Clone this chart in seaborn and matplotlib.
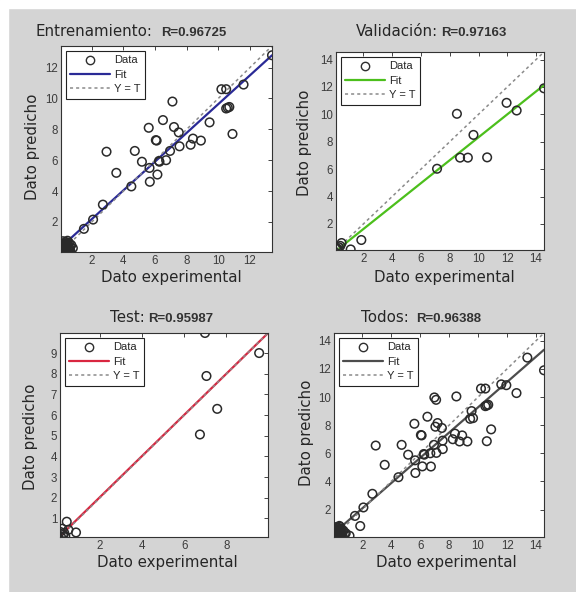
import numpy as np
import pandas as pd
import matplotlib
matplotlib.use("Agg")
import matplotlib.pyplot as plt
from matplotlib.lines import Line2D
from matplotlib.patches import Rectangle
import seaborn as sns

# datos (objetivo = experimental, salida = predicho)
train_exp = [13.4, 11.6, 10.2, 10.5, 10.5, 10.7, 10.6, 10.9, 9.45, 8.9, 8.4, 8.25,
             7.55, 7.5, 7.2, 7.1, 6.5, 5.6, 6.05, 6.1, 6.95, 6.7, 6.25, 6.28, 6.15,
             5.65, 5.67, 5.17, 4.72, 4.5, 3.55, 2.93, 2.7, 2.08, 1.5,
             0.1, 0.15, 0.2, 0.25, 0.3, 0.35, 0.4, 0.45, 0.5, 0.55, 0.6, 0.7, 0.8,
             0.12, 0.28, 0.38, 0.2, 0.65, 0.08, 0.18, 0.33, 0.42, 0.52, 0.62, 0.22,
             0.3, 0.46, 0.14]
train_pred = [12.8, 10.9, 10.6, 10.6, 9.35, 9.45, 9.4, 7.7, 8.45, 7.27, 7.4, 7.0,
              6.9, 7.8, 8.15, 9.8, 8.6, 8.1, 7.3, 7.27, 6.6, 6.0, 5.95, 5.9, 5.07,
              5.5, 4.6, 5.9, 6.6, 4.3, 5.18, 6.55, 3.12, 2.15, 1.55,
              0.1, 0.35, 0.6, 0.2, 0.45, 0.7, 0.15, 0.5, 0.3, 0.65, 0.25, 0.5, 0.3,
              0.55, 0.05, 0.32, 0.25, 0.1, 0.42, 0.75, 0.58, 0.62, 0.12, 0.4, 0.45,
              0.22, 0.78, 0.05]

val_exp = [14.55, 11.95, 12.65, 8.5, 9.65, 8.72, 9.26, 10.6, 7.12, 1.86, 1.12,
           0.49, 0.3, 0.2, 0.4, 0.1]
val_pred = [11.9, 10.84, 10.28, 10.04, 8.5, 6.84, 6.84, 6.86, 6.03, 0.83, 0.14,
            0.61, 0.3, 0.2, 0.4, 0.25]

test_exp = [6.98, 9.55, 7.05, 7.56, 6.74, 0.42, 0.86, 0.2, 0.3, 0.15, 0.35, 0.25, 0.5, 0.1]
test_pred = [9.97, 9.0, 7.89, 6.3, 5.06, 0.84, 0.32, 0.5, 0.3, 0.1, 0.15, 0.2, 0.45, 0.35]

titles = ["Entrenamiento:", "Validación:", "Test:", "Todos:"]
r_values = ["R=0.96725", "R=0.97163", "R=0.95987", "R=0.96388"]
fit_colors = ["#2a2a96", "#4cbf1c", "#d92640", "#4d4d4d"]

sets = [
    (train_exp, train_pred),
    (val_exp, val_pred),
    (test_exp, test_pred),
    (train_exp + val_exp + test_exp, train_pred + val_pred + test_pred),
]
x_ticks = [[2, 4, 6, 8, 10, 12], [2, 4, 6, 8, 10, 12, 14], [2, 4, 6, 8],
           [2, 4, 6, 8, 10, 12, 14]]
y_ticks = [[2, 4, 6, 8, 10, 12], [2, 4, 6, 8, 10, 12, 14], list(range(1, 10)),
           [2, 4, 6, 8, 10, 12, 14]]

sns.set_theme(style="white")
plt.rcParams["font.family"] = ["Liberation Sans", "DejaVu Sans"]

W, H = 576, 592
BG = "#d4d4d4"
fig = plt.figure(figsize=(W / 100, H / 100), dpi=100, facecolor=BG)
# bordes blancos del escaneo
fig.patches.append(Rectangle((0, 0), 8 / W, 1, transform=fig.transFigure, color="white", zorder=0))
fig.patches.append(Rectangle((0, 1 - 8 / H), 1, 8 / H, transform=fig.transFigure, color="white", zorder=0))


def px_ax(l, t, r, b):
    return fig.add_axes([l / W, 1 - b / H, (r - l) / W, (b - t) / H])


def ftext(x, y, s, **kw):
    fig.text(x / W, 1 - y / H, s, **kw)


boxes = [(61, 46, 272, 252), (336, 52, 544, 250), (60, 333, 268, 537), (334, 333, 544, 537)]
# posiciones de textos: (fin titulo, inicio R, y titulo, xlabel x, xlabel y, ylabel x, ylabel y)
text_pos = [
    (152, 161, 32, 171, 277, 33, 147),
    (438, 441, 32, 444, 278, 304, 143),
    (145, 148, 318, 167, 563, 30, 437),
    (409, 416, 318, 446, 563, 306, 433),
]

for i, (xe, yp) in enumerate(sets):
    ax = px_ax(*boxes[i])
    df = pd.DataFrame({"exp": xe, "pred": yp})
    lo = min(df["exp"].min(), df["pred"].min())
    hi = max(df["exp"].max(), df["pred"].max())
    m, b = np.polyfit(df["exp"], df["pred"], 1)
    lim = np.array([lo, hi])

    sns.lineplot(x=lim, y=m * lim + b, ax=ax, color=fit_colors[i], lw=1.6, zorder=2)
    sns.lineplot(x=lim, y=lim, ax=ax, color="#8a8a8a", lw=1.1, linestyle=(0, (2, 2)), zorder=2)
    sns.scatterplot(data=df, x="exp", y="pred", ax=ax, marker="o", s=38,
                    fc="none", ec="#2a2a2a", linewidth=1.1, zorder=3)

    ax.set_xlim(lo, hi)
    ax.set_ylim(lo, hi)
    ax.set_xticks(x_ticks[i])
    ax.set_yticks(y_ticks[i])
    ax.set_xlabel("")
    ax.set_ylabel("")
    ax.set_facecolor("white")
    ax.tick_params(direction="in", length=3, width=0.7, top=True, right=True,
                   labelsize=8.3, labelcolor="#3c3c3c", color="#444444", pad=2)
    for sp in ax.spines.values():
        sp.set_color("#333333")
        sp.set_linewidth(0.8)

    handles = [
        Line2D([], [], ls="none", marker="o", mfc="none", mec="#2e2e2e", ms=6, mew=1.0),
        Line2D([], [], color=fit_colors[i], lw=1.6),
        Line2D([], [], color="#8a8a8a", lw=1.1, ls=(0, (2, 2))),
    ]
    leg = ax.legend(handles, ["Data", "Fit", "Y = T"], loc="upper left", fontsize=8,
                    frameon=True, fancybox=False, framealpha=1, edgecolor="#222222",
                    handlelength=3.6, handletextpad=0.35, labelspacing=0.4,
                    borderpad=0.4, borderaxespad=0.45)
    leg.get_frame().set_linewidth(0.8)

    t_end, r_start, ty, xlx, xly, ylx, yly = text_pos[i]
    ftext(t_end, ty, titles[i], ha="right", va="center", fontsize=10.8, family="DejaVu Sans")
    ftext(r_start, ty + 1, r_values[i], ha="left", va="center", fontsize=9.5,
          fontweight="bold", color="#333333")
    ftext(xlx, xly, "Dato experimental", ha="center", va="center", fontsize=10.8, family="DejaVu Sans")
    ftext(ylx, yly, "Dato predicho", ha="center", va="center", rotation=90, fontsize=10.8,
          family="DejaVu Sans")

fig.savefig("out.png", dpi=100, facecolor=fig.get_facecolor())
